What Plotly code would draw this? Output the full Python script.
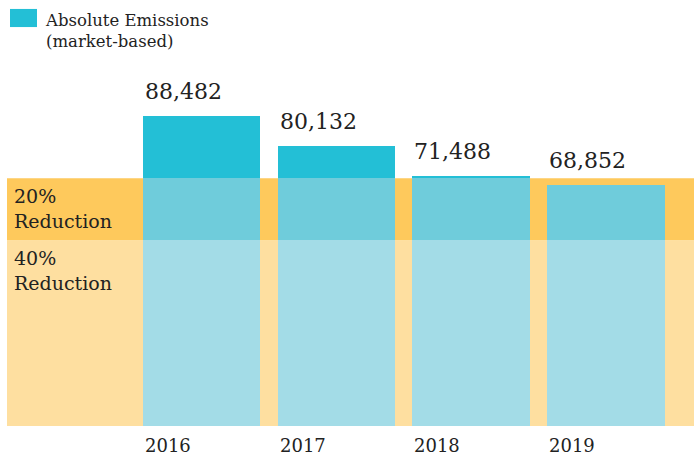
import plotly.graph_objects as go

years = ["2016", "2017", "2018", "2019"]
emissions = [88482, 80132, 71488, 68852]
value_labels = ["88,482", "80,132", "71,488", "68,852"]
baseline = 88482
reductions = [0.20, 0.40]
band_labels = ["20%<br>Reduction", "40%<br>Reduction"]
legend_label = "Absolute Emissions<br>(market-based)"

t20 = baseline * (1 - reductions[0])
t40 = baseline * (1 - reductions[1])

C_TOP = "#23BFD6"
C_MID = "#6FCCDB"
C_LOW = "#A3DCE7"
C_B20 = "#FEC95C"
C_B40 = "#FEDFA0"
TXT = "#222222"
FONT = "DejaVu Serif"

x = list(range(len(years)))
low = [min(v, t40) for v in emissions]
mid = [max(0, min(v, t20) - t40) for v in emissions]
top = [max(0, v - t20) for v in emissions]

BW = 0.872
fig = go.Figure()
for seg, col in [(low, C_LOW), (mid, C_MID), (top, C_TOP)]:
    fig.add_trace(go.Bar(x=x, y=seg, marker=dict(color=col, line=dict(width=0)),
                         width=BW, hoverinfo="skip", showlegend=False))

# reduction bands
fig.add_shape(type="rect", xref="paper", yref="y", x0=0, x1=1, y0=0, y1=t40,
              fillcolor=C_B40, line=dict(width=0), layer="below")
fig.add_shape(type="rect", xref="paper", yref="y", x0=0, x1=1, y0=t40, y1=t20,
              fillcolor=C_B20, line=dict(width=0), layer="below")

ann = []
for i, (v, lab, yr) in enumerate(zip(emissions, value_labels, years)):
    ann.append(dict(x=i - BW / 2, y=v, xref="x", yref="y", text=lab, showarrow=False,
                    xanchor="left", yanchor="bottom", yshift=10,
                    font=dict(family=FONT, size=22, color=TXT)))
    ann.append(dict(x=i - BW / 2, y=0, xref="x", yref="paper", text=yr, showarrow=False,
                    xanchor="left", yanchor="top", yshift=-7,
                    font=dict(family=FONT, size=18, color=TXT)))
for thr, lab in zip([t20, t40], band_labels):
    ann.append(dict(x=0.007, y=thr, xref="paper", yref="y", text=lab, showarrow=False,
                    xanchor="left", yanchor="top", align="left", yshift=-5,
                    font=dict(family=FONT, size=19, color=TXT)))
ann.append(dict(x=0.053, y=1.0, xref="paper", yref="paper", text=legend_label, showarrow=False,
                xanchor="left", yanchor="top", align="left", yshift=-9,
                font=dict(family=FONT, size=16.5, color=TXT)))
fig.add_shape(type="rect", xref="paper", yref="paper", x0=0.0044, x1=0.0437,
              y0=0.9365, y1=0.979, fillcolor=C_TOP, line=dict(width=0))

fig.update_layout(
    width=694, height=456,
    margin=dict(l=7, r=0, t=0, b=30),
    barmode="stack", bargap=0,
    plot_bgcolor="white", paper_bgcolor="white",
    xaxis=dict(range=[-1.445, 3.653], showticklabels=False, showgrid=False,
               zeroline=False, fixedrange=True),
    yaxis=dict(range=[0, 121700], showticklabels=False, showgrid=False,
               zeroline=False, fixedrange=True),
    annotations=ann,
)
fig.write_html("out.html", config={"displayModeBar": False},
               post_script="document.body.style.margin='0';document.body.style.overflow='hidden';")
